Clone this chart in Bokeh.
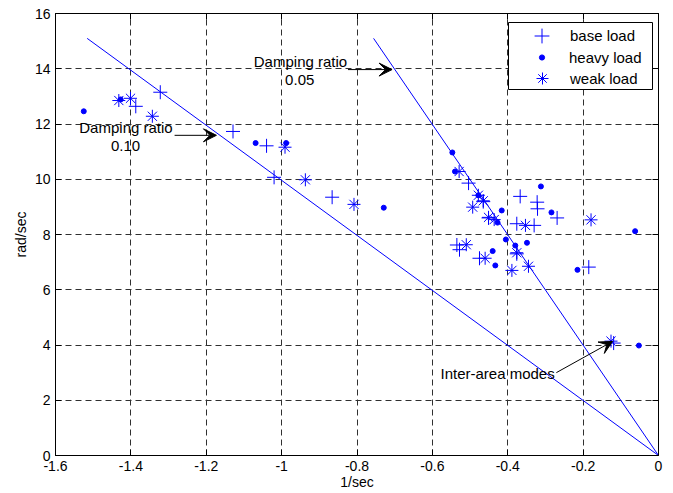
from bokeh.plotting import figure
from bokeh.models import (Range1d, FixedTicker, LinearAxis, Legend, LegendItem,
                          ColumnDataSource, Arrow, VeeHead, BoxAnnotation)
from bokeh.embed import file_html
from bokeh.resources import INLINE

# ---------------- data ----------------
base_x = [-1.387, -1.322, -1.129, -1.040, -1.020, -0.866, -0.504, -0.465, -0.451, -0.367,
          -0.322, -0.321, -0.269, -0.376, -0.330, -0.535, -0.528, -0.475, -0.376, -0.185, -0.119]
base_y = [12.64, 13.15, 11.73, 11.21, 10.07, 9.35, 9.86, 9.19, 8.60, 9.38,
          9.17, 8.93, 8.60, 8.39, 8.33, 7.62, 7.45, 7.14, 7.30, 6.82, 4.07]

heavy_x = [-1.525, -1.427, -1.069, -0.988, -0.729, -0.547, -0.540, -0.478, -0.416, -0.427,
           -0.312, -0.284, -0.440, -0.433, -0.405, -0.380, -0.349, -0.215, -0.062, -0.052]
heavy_y = [12.46, 12.89, 11.31, 11.31, 8.97, 10.97, 10.28, 9.42, 8.87, 8.43,
           9.74, 8.80, 7.40, 6.88, 7.82, 7.60, 7.70, 6.72, 8.12, 3.98]

weak_x = [-1.432, -1.401, -1.343, -0.991, -0.937, -0.808, -0.529, -0.478, -0.465, -0.493,
          -0.451, -0.436, -0.353, -0.510, -0.460, -0.376, -0.389, -0.345, -0.179, -0.126]
weak_y = [12.85, 12.93, 12.28, 11.16, 9.98, 9.09, 10.28, 9.42, 9.22, 8.99,
          8.62, 8.54, 8.33, 7.63, 7.14, 7.34, 6.70, 6.85, 8.53, 4.14]

# constant damping-ratio lines (from the origin)
zeta10_x = [-1.516, 0.0]
zeta10_y = [15.1, 0.0]
zeta05_x = [-0.756, 0.0]
zeta05_y = [15.1, 0.0]

# annotations
note_text = ["Damping ratio", "0.05", "Damping ratio", "0.10", "Inter-area modes"]
note_x = [-0.950, -0.952, -1.413, -1.414, -0.427]
note_y = [14.26, 13.61, 11.87, 11.22, 2.97]

arrow_x0 = [-0.824, -1.284, -0.271]
arrow_y0 = [13.97, 11.59, 3.00]
arrow_x1 = [-0.707, -1.173, -0.122]
arrow_y1 = [13.97, 11.59, 4.13]

x_ticks = [-1.6, -1.4, -1.2, -1.0, -0.8, -0.6, -0.4, -0.2, 0.0]
x_tick_labels = ["-1.6", "-1.4", "-1.2", "-1", "-0.8", "-0.6", "-0.4", "-0.2", "0"]
y_ticks = [0, 2, 4, 6, 8, 10, 12, 14, 16]
y_tick_labels = ["0", "2", "4", "6", "8", "10", "12", "14", "16"]

legend_labels = ["base load", "heavy load", "weak load"]

# ---------------- figure ----------------
FONT = "Liberation Sans"
BLUE = "#0000FF"

p = figure(width=673, height=493, output_backend="svg", toolbar_location=None,
           x_range=Range1d(-1.6, 0.0), y_range=Range1d(0, 16),
           min_border_left=55, min_border_right=15, min_border_top=13, min_border_bottom=38)
p.background_fill_color = "white"
p.border_fill_color = "white"
p.outline_line_color = "black"
p.outline_line_width = 1

xt = FixedTicker(ticks=x_ticks, minor_ticks=[])
yt = FixedTicker(ticks=y_ticks, minor_ticks=[])

for ax, tk, labs, ticks in ((p.xaxis[0], xt, x_tick_labels, x_ticks),
                            (p.yaxis[0], yt, y_tick_labels, y_ticks)):
    ax.ticker = tk
    ax.major_label_overrides = {t: l for t, l in zip(ticks, labs)}
    ax.major_tick_in = 6
    ax.major_tick_out = 0
    ax.minor_tick_line_color = None
    ax.axis_line_color = "black"
    ax.major_tick_line_color = "black"
    ax.major_label_text_font = FONT
    ax.major_label_text_font_size = "14px"
    ax.major_label_text_color = "black"
    ax.axis_label_text_font = FONT
    ax.axis_label_text_font_size = "14px"
    ax.axis_label_text_font_style = "normal"
    ax.axis_label_text_color = "black"

p.xaxis.axis_label = "1/sec"
p.yaxis.axis_label = "rad/sec"
p.xaxis.major_label_standoff = 5
p.xaxis.axis_label_standoff = 0
p.yaxis.major_label_standoff = 5
p.yaxis.axis_label_standoff = 3

# top and right box axes with inward ticks (no labels)
top = LinearAxis(ticker=FixedTicker(ticks=x_ticks, minor_ticks=[]), major_label_text_color=None,
                 major_tick_in=6, major_tick_out=0, minor_tick_line_color=None,
                 major_label_standoff=0, axis_label_standoff=0,
                 axis_line_color="black", major_tick_line_color="black")
right = LinearAxis(ticker=FixedTicker(ticks=y_ticks, minor_ticks=[]), major_label_text_color=None,
                   major_tick_in=6, major_tick_out=0, minor_tick_line_color=None,
                   major_label_standoff=0, axis_label_standoff=0,
                   axis_line_color="black", major_tick_line_color="black")
p.add_layout(top, "above")
p.add_layout(right, "right")

for g in (p.xgrid[0], p.ygrid[0]):
    g.grid_line_color = "#303030"
    g.grid_line_dash = "6 4"
    g.grid_line_width = 1
p.xgrid.ticker = xt
p.ygrid.ticker = yt

# damping lines
p.line(zeta10_x, zeta10_y, line_color=BLUE, line_width=1)
p.line(zeta05_x, zeta05_y, line_color=BLUE, line_width=1)

# markers
r_base = p.scatter(base_x, base_y, marker="cross", size=14, line_color=BLUE, line_width=1)
r_heavy = p.scatter(heavy_x, heavy_y, marker="circle", size=5, line_color=BLUE, fill_color=BLUE)
r_weak = p.scatter(weak_x, weak_y, marker="asterisk", size=13, line_color=BLUE, line_width=1)

# annotation texts
tsrc = ColumnDataSource(dict(x=note_x, y=note_y, t=note_text))
p.text(x="x", y="y", text="t", source=tsrc, text_align="center", text_baseline="middle",
       text_font={"value": FONT}, text_font_size={"value": "15px"}, text_color="black")

asrc = ColumnDataSource(dict(x0=arrow_x0, y0=arrow_y0, x1=arrow_x1, y1=arrow_y1))
p.add_layout(Arrow(x_start="x0", y_start="y0", x_end="x1", y_end="y1", source=asrc,
                   line_color="black", line_width=1,
                   end=VeeHead(size=13, fill_color="black", line_color="black")))

# ---- legend: framed box (screen units, frame-relative) + one legend per entry ----
p.add_layout(BoxAnnotation(left=453, right=597, bottom=366, top=433,
                           left_units="screen", right_units="screen",
                           bottom_units="screen", top_units="screen",
                           fill_color="white", fill_alpha=1.0,
                           line_color="black", line_width=1, line_alpha=1.0))

# (label, renderer, glyph_width, glyph_height, label_standoff, location)
entries = ((legend_labels[0], r_base, 37, 37, 10, (468, 401)),
           (legend_labels[1], r_heavy, 13, 18, 21, (480, 389)),
           (legend_labels[2], r_weak, 30, 30, 13, (472, 362)))
for lab, rend, gw, gh, so, loc in entries:
    p.add_layout(Legend(items=[LegendItem(label=lab, renderers=[rend])], location=loc,
                        padding=0, spacing=0, margin=0, glyph_width=gw, glyph_height=gh,
                        label_standoff=so, label_width=0, label_height=0,
                        label_text_font=FONT, label_text_font_size="15px",
                        label_text_color="black", border_line_color=None,
                        background_fill_alpha=0))

open("out.html", "w").write(file_html(p, INLINE))
